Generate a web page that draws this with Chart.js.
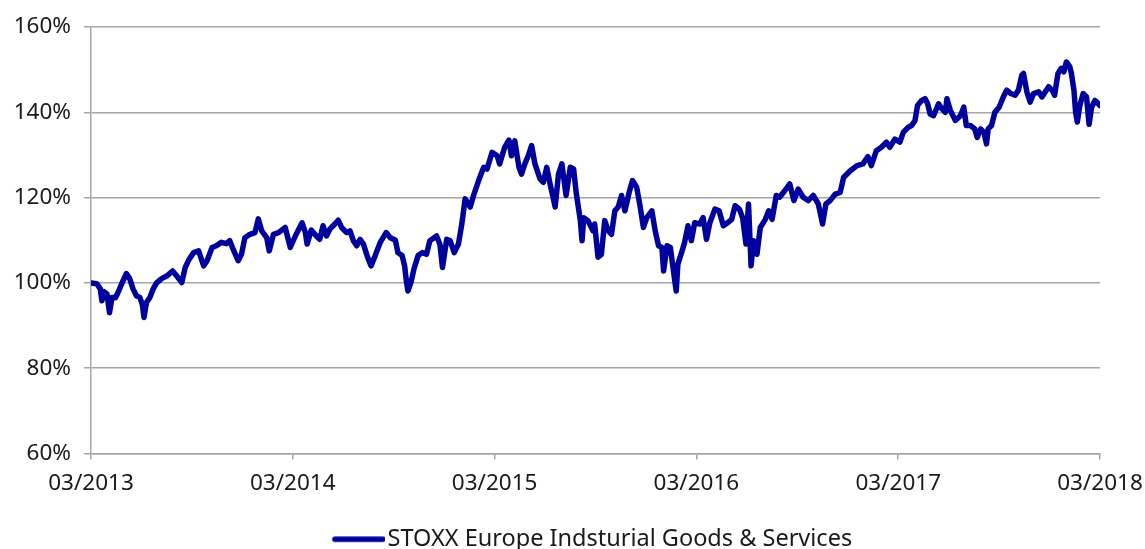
<!DOCTYPE html>
<html>
<head>
<meta charset="utf-8">
<script src="https://cdn.jsdelivr.net/npm/chart.js@4.4.1/dist/chart.umd.min.js"></script>
<style>
html,body{margin:0;padding:0;background:#fff;}
#wrap{width:1145px;height:549px;}
</style>
</head>
<body>
<div id="wrap"><canvas id="c" width="1145" height="549"></canvas></div>
<script>
// months since 03/2013
const months = [
0,0.35,0.55,0.65,0.75,0.95,1.1,1.25,1.45,1.6,1.85,2.1,2.3,2.5,2.7,2.9,3.05,3.15,3.3,3.5,3.7,3.9,4.2,4.5,4.85,5.1,5.4,5.6,5.8,6.1,6.4,6.7,6.9,7.2,7.45,7.75,8.05,8.25,8.45,8.75,8.95,9.15,9.45,9.75,9.95,10.15,10.45,10.6,10.85,11.15,11.55,
11.85,12.15,12.55,12.75,12.85,13.1,13.4,13.6,13.8,14.0,14.2,14.5,14.7,14.9,15.2,15.4,15.6,15.8,16.0,16.2,16.45,16.65,16.9,17.2,17.55,17.8,18.1,18.25,18.5,18.65,18.75,18.85,19.05,19.2,19.45,19.7,19.95,20.15,20.55,
20.75,20.9,21.15,21.35,21.6,21.85,22.05,22.25,22.55,22.75,23.05,23.35,23.55,23.85,24.15,24.3,24.6,24.85,25.0,25.2,25.45,25.6,25.8,26.0,26.2,26.4,26.7,26.9,27.1,27.3,27.6,27.8,28.0,28.25,28.5,28.7,28.85,29.1,29.2,29.3,29.55,29.85,29.95,30.15,30.35,30.55,30.75,30.95,31.15,31.35,31.55,31.75,32.0,32.2,32.45,
32.65,32.85,33.05,33.35,33.55,33.75,33.95,34.05,34.25,34.45,34.65,34.8,34.9,35.15,35.3,35.5,35.7,35.9,36.2,36.4,36.6,36.8,37.1,37.35,37.6,37.85,38.1,38.3,38.55,38.75,38.95,39.1,39.25,39.4,39.6,39.8,40.1,40.3,40.5,40.75,40.95,41.25,41.55,41.8,42.05,42.35,42.65,42.95,43.25,43.5,43.7,43.95,44.25,44.55,
44.75,45.15,45.55,45.9,46.2,46.4,46.7,47.0,47.3,47.5,47.8,48.1,48.3,48.6,48.8,49.0,49.15,49.4,49.6,49.75,49.9,50.1,50.4,50.6,50.8,50.9,51.1,51.4,51.7,51.9,52.05,52.3,52.55,52.7,52.9,53.1,53.25,53.35,53.55,53.75,54.0,54.25,54.45,54.7,54.95,55.15,55.35,55.45,55.65,55.85,56.05,56.35,56.55,56.75,56.95,57.15,57.3,57.5,57.7,57.85,58.0,58.2,58.3,58.45,58.55,58.65,58.8,59.0,59.2,59.35,59.5,59.7,59.9,60
];
// index level in percent
const values = [
100,99.8,98.6,95.8,98,97.4,93,96.6,96.5,97.7,100,102.2,101,98.6,97,96.6,95,91.9,95.4,96.6,98.6,100,101,101.6,102.8,101.6,100.1,103.6,105.3,107.1,107.5,104,105.2,108.3,108.7,109.5,109.2,109.9,107.9,105.2,106.7,110.6,111.4,111.8,115,112.2,110.6,107.5,111.4,111.8,113,
108.3,111,114.1,111.8,109.1,112.4,111,110.2,113.4,111,112.6,113.8,114.7,113,111.8,112.2,109.9,108.7,110.2,109.1,106,104,106.4,109.5,111.8,110.6,110,107.1,106.4,104,100.5,98.1,100.5,103.2,106.4,107.1,106.7,109.9,111,
109,103.6,110.2,109.9,107.1,109.1,113.8,119.7,117.8,120.5,124,127.1,126.7,130.6,129.8,127.9,131.8,133.5,129.8,133.3,127.1,125.5,127.9,129.8,132.2,127.9,124.4,123.6,127.1,123.2,117.8,125.5,127.9,120.5,127.1,126.7,121.2,114.6,109.9,115.3,114.6,112.2,113.8,106,106.7,114.6,112.2,111.4,116.9,117.8,120.5,116.9,121.2,124,122.4,
118,113,115.3,116.9,112.2,108.7,108.3,102.8,108.7,108.3,102.4,98.1,104.4,107.5,109.5,113.4,109.9,114.1,113.8,115.3,110.2,114.1,117.3,116.9,113.4,114.1,114.9,118.1,117.3,115.3,109.1,118.5,104,109.9,106.7,113,114.9,116.9,114.9,120.5,120.1,121.6,123.2,119.3,122,120.1,119.3,120.5,118.5,113.8,118.5,119.3,120.8,121.2,
124.7,126.3,127.5,127.9,129.6,127.5,131,131.8,133,131.8,133.7,133,135.3,136.5,136.9,138.1,141.6,142.8,143.2,142,139.6,139.2,142,140.8,140,143.2,140.4,138.1,139.2,141.2,136.9,136.9,136.1,134.1,136.1,135.3,132.6,136.1,136.9,140,141.2,143.6,145.2,144.4,144,145.2,148.7,149.1,144.8,142.4,144.4,144.8,143.6,144.8,146,145.2,144,149.1,150.3,149.5,151.8,150.7,149.1,145.2,140,137.7,141.6,144.4,143.6,137.2,141.2,142.8,142,141.6
];
const tickLabels = ['03/2013','03/2014','03/2015','03/2016','03/2017','03/2018'];
const seriesName = 'STOXX Europe Indsturial Goods & Services';

const points = months.map((m,i)=>({x:m,y:values[i]}));
const FONT = "'Noto Sans', 'Open Sans', sans-serif";
const GRID = '#a6a6a6';
const NAVY = '#00009c';
const TICK_SIZE = 22.5;
const LEGEND_SIZE = 23.5;

// legend marker: a thick line, nudged towards the label
const marker = document.createElement('canvas');
marker.width = 70; marker.height = 8;
(function(){
  const g = marker.getContext('2d');
  g.strokeStyle = NAVY; g.lineWidth = 5.5; g.lineCap = 'round';
  g.beginPath(); g.moveTo(20, 4); g.lineTo(68, 4); g.stroke();
})();

const legendShift = {
  id: 'legendShift',
  afterLayout(chart) {
    const lg = chart.legend;
    if (!lg) return;
    const dx = 38, dy = 12;
    lg.left += dx; lg.right += dx; lg.top += dy; lg.bottom += dy;
  }
};

new Chart(document.getElementById('c'), {
  type: 'line',
  data: { datasets: [{
    label: seriesName,
    data: points,
    borderColor: NAVY,
    backgroundColor: NAVY,
    borderWidth: 5.5,
    pointRadius: 0,
    tension: 0,
    borderJoinStyle: 'round',
    borderCapStyle: 'round'
  }]},
  plugins: [legendShift],
  options: {
    responsive: false,
    animation: false,
    devicePixelRatio: 1,
    layout: { padding: { left: 0, right: 45, top: 27, bottom: 0 } },
    plugins: {
      tooltip: { enabled: false },
      legend: {
        position: 'bottom',
        labels: {
          font: { family: FONT, size: LEGEND_SIZE },
          color: '#1a1a1a',
          usePointStyle: true,
          pointStyle: marker,
          pointStyleWidth: 52,
          boxHeight: LEGEND_SIZE,
          padding: 6
        }
      }
    },
    scales: {
      x: {
        type: 'linear',
        min: 0, max: 60,
        afterFit: s => { s.height = 56; s.paddingLeft = 0; s.paddingRight = 0; },
        ticks: {
          stepSize: 12,
          autoSkip: false,
          maxRotation: 0,
          padding: 11,
          font: { family: FONT, size: TICK_SIZE },
          color: '#1a1a1a',
          callback: (v) => tickLabels[Math.round(v/12)]
        },
        grid: { drawOnChartArea: false, drawTicks: true, tickLength: 6, color: GRID, lineWidth: 1.5 },
        border: { display: true, color: GRID, width: 1.5 }
      },
      y: {
        min: 60, max: 160,
        afterFit: s => { s.width = 91; s.paddingTop = 0; s.paddingBottom = 0; },
        ticks: {
          stepSize: 20,
          padding: 13,
          font: { family: FONT, size: TICK_SIZE },
          color: '#1a1a1a',
          callback: v => v + '%'
        },
        grid: { color: GRID, lineWidth: 1.5, tickLength: 7, drawTicks: true },
        border: { display: true, color: GRID, width: 1.5 }
      }
    }
  }
});
</script>
</body>
</html>
